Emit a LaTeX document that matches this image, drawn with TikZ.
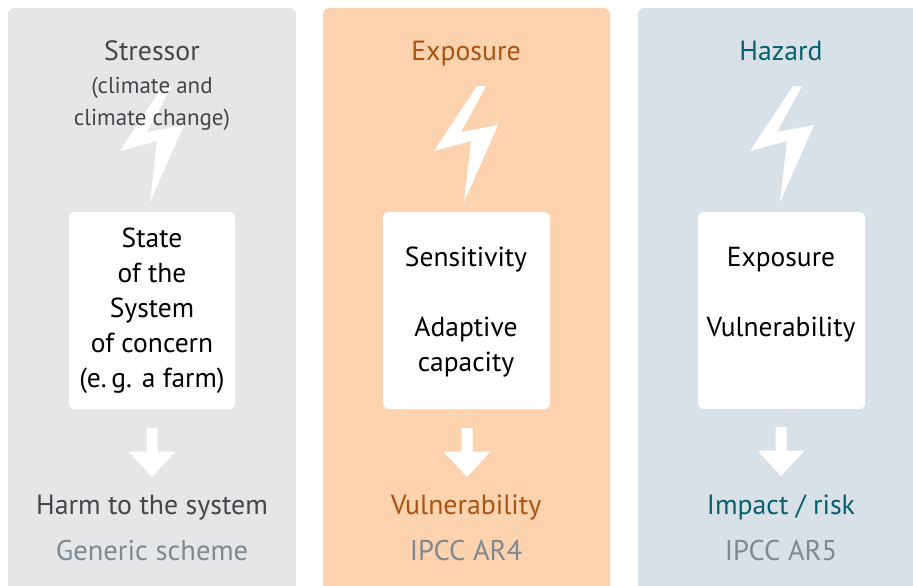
\documentclass[tikz,border=0pt]{standalone}
\usepackage{fontspec}
\setmainfont{PT Sans}
\definecolor{panelgrey}{HTML}{E4E6E8}
\definecolor{panelorange}{HTML}{FDD2AF}
\definecolor{panelblue}{HTML}{D8E1E7}
\definecolor{txtgrey}{HTML}{444649}
\definecolor{txtorange}{HTML}{A85413}
\definecolor{txtblue}{HTML}{07606F}
\definecolor{subgrey}{HTML}{80898F}
\tikzset{
 panel/.style={rounded corners=6pt},
 whitebox/.style={fill=white,rounded corners=6pt},
 lab/.style={font=\fontsize{27.8}{28}\selectfont,inner sep=0pt,anchor=base},
 small/.style={font=\fontsize{23}{23}\selectfont,inner sep=0pt,anchor=base},
 inbox/.style={font=\fontsize{27.5}{28}\selectfont,inner sep=0pt,anchor=base,text=black},
 sub/.style={font=\fontsize{28.5}{28}\selectfont,inner sep=0pt,anchor=base,text=subgrey},
 bolt/.pic={\fill[white] (20,-40) -- (11,-40) -- (-32,25) -- (5,15) -- (-2,76) -- (32,-1) -- (-5,6) -- cycle;},
 dnarrow/.pic={\fill[white] (-5.5,-24.5) -- (5.5,-24.5) -- (5.5,-1) -- (23.5,-1) -- (0,24.5) -- (-23.5,-1) -- (-5.5,-1) -- cycle;}
}
\begin{document}
\begin{tikzpicture}[x=1pt,y=-1pt]
\useasboundingbox (0,0) rectangle (913,586);
\clip (0,0) rectangle (913,586);
\fill[panel,panelgrey] (8,8) rectangle (296,600);
\fill[panel,panelorange] (323,8) rectangle (610,600);
\fill[panel,panelblue] (638,8) rectangle (930,600);
% bolts
\pic at (152,126) {bolt};
\pic at (466,126) {bolt};
\pic at (782,126) {bolt};
% boxes
\fill[whitebox] (69,212) rectangle (235,409);
\fill[whitebox] (383,212) rectangle (550,409);
\fill[whitebox] (698,212) rectangle (865,409);
% arrows
\pic at (152,452.5) {dnarrow};
\pic at (467,452.5) {dnarrow};
\pic at (781,451.5) {dnarrow};
% column 1
\node[lab,text=txtgrey] (t1) at (152,60.8) {Stressor};
\node[small,text=txtgrey] (t1a) at (152,93) {(climate and};
\node[small,text=txtgrey] (t1b) at (152,125) {climate change)};
\node[inbox] (b1a) at (152,247.8) {State};
\node[inbox] (b1b) at (152,282.8) {of the};
\node[inbox] (b1c) at (152,317.8) {System};
\node[inbox] (b1d) at (152,352.8) {of concern};
\node[inbox] (b1e) at (152,387.8) {(e.\,g. a farm)};
\node[lab,text=txtgrey] (r1) at (152,514.8) {Harm to the system};
\node[sub] (s1) at (152,560) {Generic scheme};
% column 2
\node[lab,text=txtorange] (t2) at (466,60.8) {Exposure};
\node[inbox] (b2a) at (466,266.8) {Sensitivity};
\node[inbox] (b2b) at (466,336.8) {Adaptive};
\node[inbox] (b2c) at (466,371.8) {capacity};
\node[lab,text=txtorange] (r2) at (466,514.8) {Vulnerability};
\node[sub] (s2) at (466,560) {IPCC AR4};
% column 3
\node[lab,text=txtblue] (t3) at (781,60.8) {Hazard};
\node[inbox] (b3a) at (781,266.8) {Exposure};
\node[inbox] (b3b) at (781,336.8) {Vulnerability};
\node[lab,text=txtblue] (r3) at (781,514.8) {Impact / risk};
\node[sub] (s3) at (781,560) {IPCC AR5};
\end{tikzpicture}
\end{document}
